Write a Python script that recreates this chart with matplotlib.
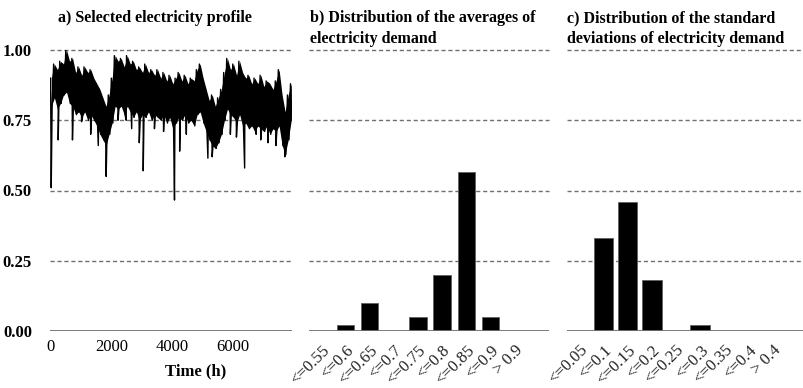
import numpy as np
import matplotlib
matplotlib.use('Agg')
from matplotlib import pyplot as plt

plt.rcParams['font.family'] = ['Liberation Serif', 'DejaVu Serif']

# a) profile: upper / lower envelope every 100 h
env_t = np.arange(0, 8000, 100)
env_hi = [0.90, 0.95, 0.93, 0.96, 0.95, 1.00, 0.96, 0.97, 0.92, 0.94,
          0.91, 0.94, 0.92, 0.93, 0.90, 0.88, 0.86, 0.83, 0.80, 0.84,
          0.90, 0.98, 0.96, 0.97, 0.94, 0.98, 0.95, 0.96, 0.93, 0.94,
          0.92, 0.95, 0.92, 0.93, 0.91, 0.93, 0.90, 0.92, 0.89, 0.91,
          0.88, 0.90, 0.92, 0.89, 0.91, 0.88, 0.90, 0.89, 0.93, 0.95,
          0.90, 0.86, 0.82, 0.84, 0.80, 0.83, 0.86, 0.92, 0.97, 0.93,
          0.95, 0.91, 0.96, 0.92, 0.90, 0.91, 0.88, 0.90, 0.88, 0.91,
          0.87, 0.89, 0.88, 0.86, 0.89, 0.93, 0.84, 0.78, 0.84, 0.88]
env_lo = [0.80, 0.83, 0.79, 0.81, 0.84, 0.85, 0.81, 0.80, 0.77, 0.78,
          0.76, 0.78, 0.75, 0.77, 0.75, 0.73, 0.70, 0.68, 0.66, 0.70,
          0.74, 0.80, 0.79, 0.80, 0.77, 0.80, 0.78, 0.76, 0.78, 0.75,
          0.77, 0.76, 0.78, 0.75, 0.77, 0.76, 0.75, 0.77, 0.74, 0.76,
          0.72, 0.74, 0.76, 0.75, 0.77, 0.74, 0.75, 0.73, 0.77, 0.78,
          0.74, 0.71, 0.68, 0.66, 0.65, 0.67, 0.70, 0.75, 0.79, 0.77,
          0.76, 0.74, 0.77, 0.73, 0.74, 0.72, 0.73, 0.71, 0.73, 0.72,
          0.71, 0.73, 0.70, 0.72, 0.71, 0.73, 0.66, 0.63, 0.68, 0.75]
# single-hour dips
spike_t = [0, 230, 700, 1000, 1300, 1550, 1810, 2200, 2470, 2650,
           2900, 3030, 3400, 3700, 4060, 4230, 4450, 5160, 5300, 5440,
           5900, 6100, 6370, 6750, 6900, 7140, 7400, 7690]
spike_v = [0.51, 0.68, 0.68, 0.745, 0.70, 0.66, 0.55, 0.75, 0.75, 0.72,
           0.67, 0.57, 0.72, 0.71, 0.466, 0.64, 0.70, 0.615, 0.62, 0.66,
           0.70, 0.69, 0.58, 0.70, 0.68, 0.67, 0.66, 0.62]

# b) averages
avg_labels = ['<=0.55', '<=0.6', '<=0.65', '<=0.7', '<=0.75', '<=0.8',
              '<=0.85', '<=0.9', '> 0.9']
avg_share = [0.0, 0.022, 0.10, 0.0, 0.05, 0.20, 0.566, 0.05, 0.0]

# c) standard deviations
std_labels = ['<=0.05', '<=0.1', '<=0.15', '<=0.2', '<=0.25', '<=0.3',
              '<=0.35', '<=0.4', '> 0.4']
std_share = [0.0, 0.33, 0.459, 0.18, 0.0, 0.022, 0.0, 0.0, 0.0]

# zigzag between envelopes, plus dips
t = np.concatenate([env_t, env_t + 50, np.array(spike_t) + 20])
v = np.concatenate([env_hi, env_lo, spike_v])
order = np.argsort(t, kind='stable')
t, v = t[order], v[order]

fig = plt.figure(figsize=(8.04, 3.88), dpi=100)
H = 388.0
bot = (H - 331) / H
hgt = (331 - 50) / H
ax1 = fig.add_axes([50 / 804, bot, 242 / 804, hgt])
ax2 = fig.add_axes([309 / 804, bot, 240 / 804, hgt])
ax3 = fig.add_axes([567 / 804, bot, 237 / 804, hgt])

grid_kw = dict(color='#707070', lw=1.0, ls=(0, (3, 2)), zorder=1)
for ax in (ax1, ax2, ax3):
    for s in ax.spines.values():
        s.set_visible(False)
    ax.set_ylim(0, 1.0)
    for g in (0.25, 0.5, 0.75, 1.0):
        ax.axhline(g, clip_on=False, **grid_kw)
    ax.axhline(0, color='#707070', lw=1.3, zorder=3)
    ax.tick_params(length=0)

ax1.fill_between(env_t + 25, env_lo, env_hi, color='black', lw=0, zorder=2)
ax1.plot(t, v, color='black', lw=1.0, zorder=2)
ax1.set_xlim(-20, 7950)
ax1.set_xticks([0, 2000, 4000, 6000])
ax1.set_xticklabels(['0', '2000', '4000', '6000'], fontsize=12)
ax1.tick_params(axis='x', pad=6)
ax1.set_yticks([0, 0.25, 0.5, 0.75, 1.0])
ax1.set_yticklabels(['0.00', '0.25', '0.50', '0.75', '1.00'],
                    fontsize=12, fontweight='bold')
ax1.tick_params(axis='y', pad=13)
ax1.set_xlabel('Time (h)', fontsize=12, fontweight='bold')
ax1.xaxis.set_label_coords(0.6, -0.115)

ax2.bar(np.arange(len(avg_share)), avg_share, width=0.72, color='black',
        edgecolor='#606060', lw=0.6, zorder=2)
ax2.set_xlim(-0.5, 9.42)
ax2.set_xticks(np.arange(len(avg_labels)))
ax2.set_xticklabels(avg_labels, rotation=45, ha='right',
                    rotation_mode='anchor', fontsize=12, color='#222222')
ax2.tick_params(axis='x', pad=8)
ax2.set_yticks([])

ax3.bar(np.arange(len(std_share)), std_share, width=0.8, color='black',
        edgecolor='#606060', lw=0.6, zorder=2)
ax3.set_xlim(-0.52, 9.31)
ax3.set_xticks(np.arange(len(std_labels)))
ax3.set_xticklabels(std_labels, rotation=45, ha='right',
                    rotation_mode='anchor', fontsize=12, color='#222222')
ax3.tick_params(axis='x', pad=8)
ax3.set_yticks([])

ttl = dict(fontsize=11.5, fontweight='bold', va='top', ha='left',
           linespacing=1.45)
fig.text(58 / 804, 1 - 10 / H, 'a) Selected electricity profile', **ttl)
fig.text(310 / 804, 1 - 10 / H,
         'b) Distribution of the averages of\nelectricity demand', **ttl)
fig.text(567 / 804, 1 - 10 / H,
         'c) Distribution of the standard\ndeviations of electricity demand',
         **ttl)

fig.savefig('out.png', dpi=100)
